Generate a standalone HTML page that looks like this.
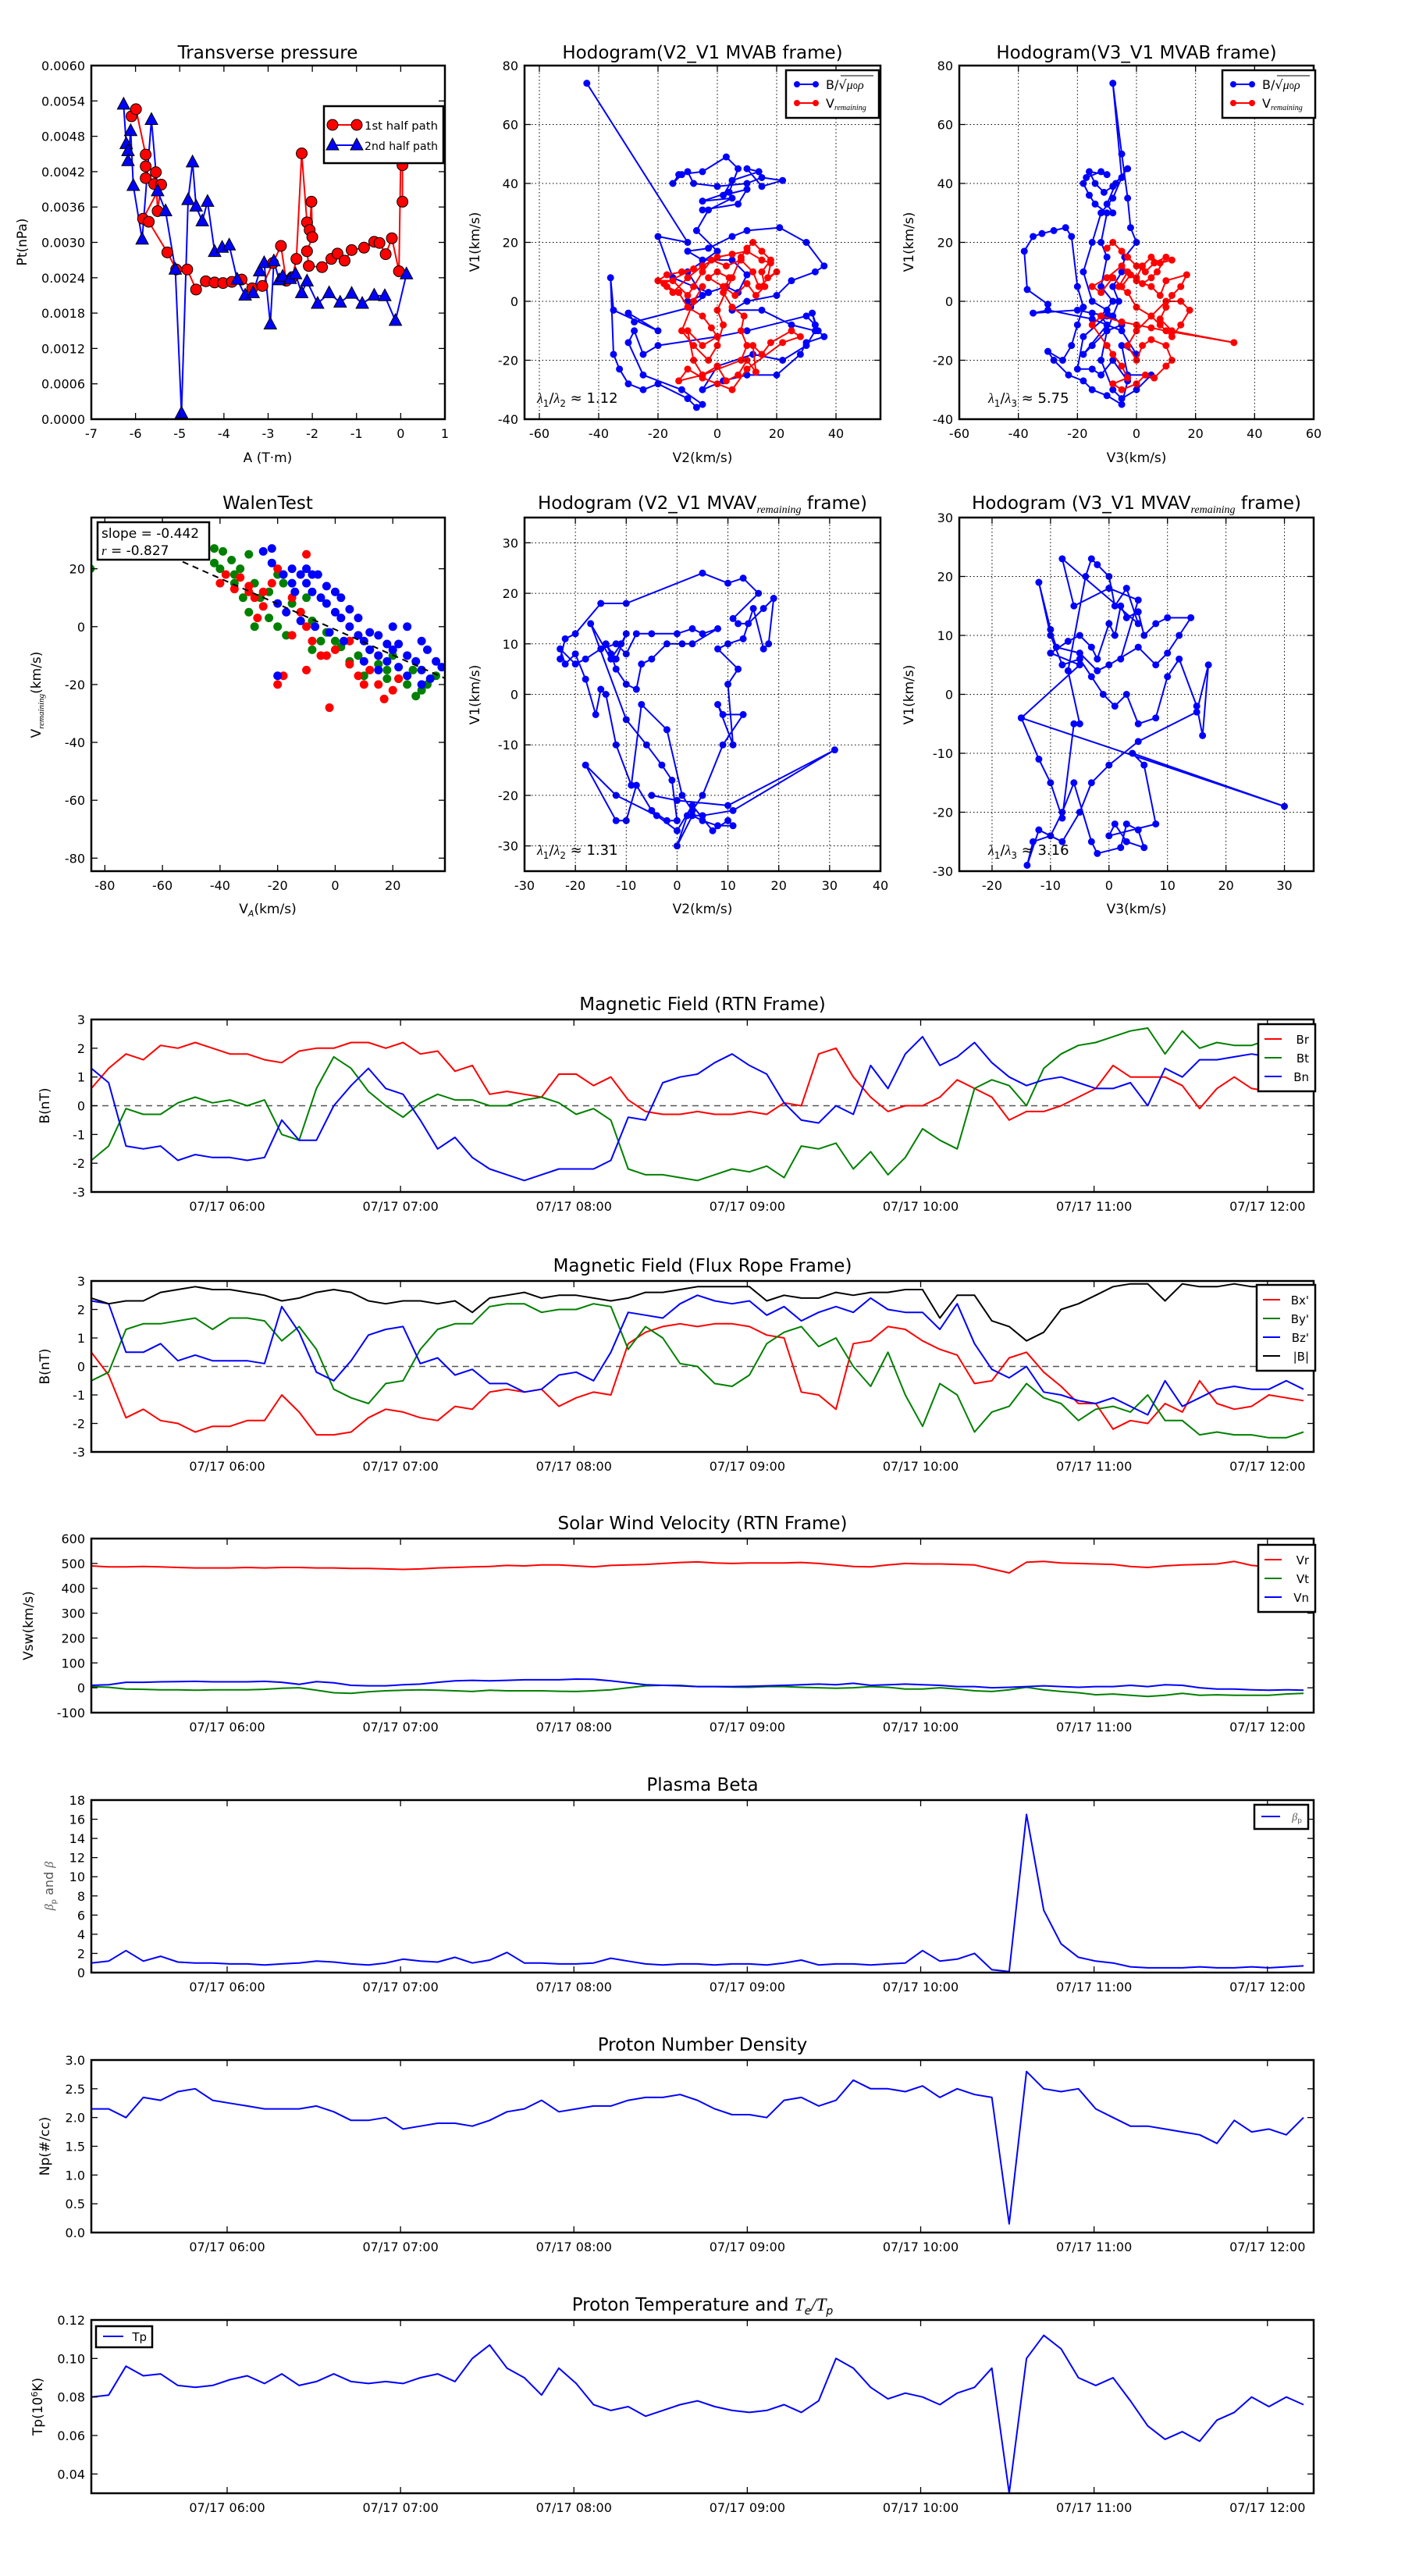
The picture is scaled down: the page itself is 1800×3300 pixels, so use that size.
<!DOCTYPE html>
<html><head><meta charset="utf-8"><title>Flux rope analysis</title>
<style>
html,body{margin:0;padding:0;background:#fff;}
svg{display:block;font-family:"DejaVu Sans","Liberation Sans",sans-serif;}
</style></head>
<body>
<svg id="chart" width="1800" height="3300" viewBox="0 0 1800 3300" xmlns="http://www.w3.org/2000/svg"></svg>
<script>
// ---------- DATA ----------
// Transverse pressure: [A (T·m), Pt (nPa)]
const tpFirstA = [-6.09,-5.99,-5.77,-5.77,-5.77,-5.58,-5.54,-5.5,-5.42,-5.83,-5.7,-5.28,-5.08,-4.83,-4.63,-4.41,-4.21,-4.02,-3.82,-3.6,-3.36,-3.13,-2.89,-2.71,-2.59,-2.45,-2.36,-2.24,-2.12,-2.06,-2.02,-2.0,-2.12,-2.08,-1.78,-1.57,-1.43,-1.27,-1.11,-0.83,-0.6,-0.48,-0.34,-0.2,-0.04,0.0,0.04,0.04];
const tpFirstP = [.00514,.00526,.00449,.00429,.00409,.00399,.00419,.00353,.00398,.0034,.00335,.00283,.00254,.00254,.0022,.00234,.00232,.00231,.00233,.00237,.00222,.00226,.00265,.00294,.00235,.00241,.00272,.00451,.00334,.00321,.00369,.00309,.00285,.0026,.00258,.00272,.00281,.00269,.00287,.00291,.00301,.00299,.0028,.00307,.00251,.00441,.00431,.00369];
const tpSecondA = [-6.27,-6.21,-6.17,-6.17,-6.11,-6.05,-5.85,-5.64,-5.5,-5.32,-5.1,-4.96,-4.81,-4.71,-4.63,-4.49,-4.37,-4.21,-4.04,-3.88,-3.7,-3.52,-3.34,-3.19,-3.09,-2.95,-2.87,-2.75,-2.67,-2.5,-2.38,-2.24,-2.12,-1.88,-1.62,-1.37,-1.11,-0.87,-0.6,-0.36,-0.12,0.13];
const tpSecondP = [.00534,.00467,.00455,.00438,.00489,.00396,.00305,.00508,.00387,.00353,.00254,.0001,.00372,.00436,.00361,.00336,.00369,.00284,.00291,.00295,.00237,.0021,.00214,.00251,.00265,.00161,.00268,.00236,.00242,.00238,.00246,.00214,.00234,.00196,.00214,.00198,.00213,.00196,.0021,.00209,.00167,.00246];

// Hodogram V2-V1 MVAB
const h1BlueV2 = [-44,-10,-20,-15,-3,-9,-28,-30,-20,-35,-36,-35,-33,-30,-25,-20,-10,-7,-5,-12,-25,-30,-28,-25,-20,0,10,30,33,32,34,36,30,28,20,10,2,-5,0,12,22,30,33,25,15,5,10,20,25,33,36,30,21,10,5,-3,-10,-5,5,10,7,3,-3,-10,-5,-10,0,-7,-3,5,-5,4,7,3,-5,-13,-15,-12,-10,-8,0,10,15,22,15,10,14,5,2,10,7,-5];
const h1BlueV1 = [74,20,22,8,3,-2,-7,-4,-10,-3,8,-18,-23,-28,-30,-28,-33,-36,-35,-30,-25,-14,-10,-18,-15,-12,-10,-5,-8,-4,-10,-12,-14,-18,-25,-25,-27,-30,-22,-18,-20,-15,-10,-8,-3,-3,0,2,7,10,12,20,25,24,22,18,17,14,14,9,3,5,3,0,2,10,17,24,31,35,34,37,45,49,44,43,40,43,44,40,39,40,42,41,39,45,44,41,36,38,33,31];
const h1RedV2 = [-20,-17,-12,-8,-18,-15,-10,-5,0,5,10,15,18,17,20,14,12,8,3,-2,-5,-8,-10,-15,-20,-17,-13,-10,-5,-2,0,-5,-10,-8,-5,0,3,7,10,13,12,15,18,25,28,22,10,5,0,-5,-10,-13,-5,8,10,8,9,5,2,4,0,-3,2,6,10,13,16,15,18,15,12,10,8,5,0,2,0,-3,-8,-12,-8,-5];
const h1RedV1 = [7,9,10,11,6,3,8,12,15,16,17,14,13,8,10,5,10,14,12,14,10,5,2,7,7,5,3,-2,-5,-9,-12,-15,-10,-20,-25,-22,-27,-25,-20,-24,-15,-18,-14,-10,-12,-14,-23,-30,-28,-26,-23,-27,-25,-20,-15,-10,-5,-2,3,8,10,8,5,2,6,2,5,10,14,17,20,18,15,8,-3,-8,-15,-20,-15,-10,0,5];

// Hodogram V3-V1 MVAB
const h2BlueV3 = [-30,-37,-38,-35,-32,-28,-24,-22,-20,-18,-20,-22,-25,-30,-28,-23,-18,-15,-10,-5,-3,-8,-12,-15,-20,-18,-10,-15,-20,-35,-30,-15,-5,0,-5,-3,5,0,-5,-8,-12,-10,-5,-10,-15,-18,-15,-12,-8,-5,-8,-5,-3,-2,0,-4,-5,-8,-6,-8,-10,-15,-18,-10,-12,-8,-12,-10,-12,-10,-14,-16,-18,-17,-12,-10,-16,-14,-11,-8,-3,-7,-10,-8];
const h2BlueV1 = [-1,4,17,22,23,24,25,22,5,-2,-8,-15,-20,-17,-20,-25,-27,-30,-32,-35,-27,-20,-25,-23,-23,-12,-5,-4,-3,-4,-3,-6,-10,-18,-15,-25,-25,-30,-33,-30,-20,-10,-8,-3,0,10,20,30,35,42,74,50,35,25,20,15,10,5,0,-5,-10,-15,-18,-8,-5,0,5,15,20,30,33,36,40,42,44,43,44,40,37,39,45,40,33,30];
const h2RedV3 = [-10,-8,-5,-3,0,3,6,10,7,5,2,-2,-5,-8,-12,-15,-10,-5,0,5,8,10,17,15,12,10,8,12,33,10,5,0,-5,-12,-15,-10,-8,-5,-3,-8,-5,0,3,6,10,12,10,5,2,0,-3,0,5,10,15,18,15,12,8,5,0,-3,-6,-3,0,2,5,8,12];
const h2RedV1 = [18,20,17,15,12,10,13,15,10,8,6,9,5,8,3,5,8,12,7,5,2,7,9,5,2,-2,-6,-10,-14,-10,-9,-8,-7,-5,-8,-15,-18,-22,-26,-28,-30,-28,-25,-26,-22,-20,-15,-13,-15,-20,-15,-10,-5,0,0,-3,-8,-12,-8,-5,-2,3,5,10,8,12,15,13,14];

// Walen test: [V_A, V_remaining]
const walenGreenVA = [-85,-42,-39,-42,-40,-36,-35,-33,-30,-28,-32,-30,-26,-28,-23,-23,-20,-18,-15,-17,-12,-10,-8,-5,-3,0,2,5,8,10,15,18,20,22,25,27,30,32,35,28,18,12,-35,-20,-8];
const walenGreenVR = [20,27,26,22,20,23,18,20,25,15,10,5,10,0,3,12,18,15,8,-3,5,10,2,-5,-2,-5,-7,-12,-10,-17,-13,-15,-10,-18,-20,-15,-22,-20,-17,-24,-18,-8,15,0,-8];
const walenRedVA = [-38,-40,-35,-33,-30,-28,-25,-27,-30,-20,-15,-12,-10,-8,-15,-10,-18,-20,-10,-5,0,-2,5,8,10,12,15,17,20,22,15,5,-22,-25,-3];
const walenRedVR = [18,15,13,17,14,10,7,3,12,20,10,5,0,-5,-3,25,-17,-20,-15,-10,-8,-28,-13,-17,-20,-15,-20,-25,-22,-18,-10,-5,15,12,-10];
const walenBlueVA = [-25,-22,-22,-18,-15,-12,-10,-8,-5,-3,0,2,5,8,10,12,15,18,20,22,25,28,30,32,35,37,33,30,25,22,18,15,12,8,5,2,0,-3,-6,-10,-14,-17,-20,-20,-12,-7,-2,3,10,20,30,25,15,-15,-8];
const walenBlueVR = [26,27,22,18,15,18,15,12,10,8,5,3,0,-3,-5,-8,-10,-12,-8,-6,-10,-12,-15,-8,-12,-14,-18,-20,-17,-14,-6,-3,-2,3,6,10,12,14,18,20,12,5,8,-17,2,0,-2,-5,-12,0,-5,0,-15,20,18];
const walenSlope = -0.442;
const walenIntercept = -1;

// Hodogram V2-V1 MVAV_remaining
const h3V2 = [-23,-22,-20,-15,-10,5,10,13,16,11,12,14,17,19,18,17,15,13,10,8,12,10,11,8,9,13,9,5,3,1,-2,-7,-9,-12,-14,-15,-16,-18,-20,-22,-23,-20,-18,-15,-12,-10,-8,-5,0,3,5,8,3,1,-2,-5,-7,-8,-10,-12,-13,-14,-12,-10,-11,-13,-17,-10,-6,-3,-1,0,-2,-5,-8,-10,-12,-18,-12,-4,0,3,7,10,11,8,5,3,0,2,5,11,31,10,0,-5];
const h3V1 = [7,11,12,18,18,24,22,23,20,15,14,14,17,19,10,9,17,11,10,9,5,2,-10,-2,-4,-4,-10,-20,-23,-20,-7,-2,-18,-10,0,1,-4,3,8,6,9,6,7,9,10,8,12,12,12,13,12,13,10,10,10,7,6,1,2,5,8,10,7,12,10,7,14,-5,-10,-14,-17,-25,-25,-23,-18,-25,-25,-14,-20,-24,-27,-22,-27,-25,-26,-26,-25,-24,-30,-24,-24,-23,-11,-22,-21,-20];

// Hodogram V3-V1 MVAV_remaining
const h4V3 = [-15,-5,-10,-7,-5,-3,-2,0,1,2,3,5,6,8,10,14,12,10,8,5,0,-2,-5,-9,-10,-12,-10,-8,-5,-3,-1,1,3,5,8,10,12,15,16,17,15,5,0,-3,-5,-8,-12,-14,-13,-10,-8,-6,-3,-2,2,3,5,6,3,1,0,8,6,4,30,-15,-12,-10,-8,-6,-5,-7,-4,-3,-2,0,1,3,5,-8,-6,0,5,2];
const h4V1 = [-4,5,7,9,10,8,6,12,10,15,13,14,10,12,13,13,10,7,5,8,5,4,7,8,11,19,10,5,6,3,0,-2,0,-5,-4,3,6,-2,-7,5,-3,-8,-12,-15,-20,-25,-23,-29,-25,-24,-20,-15,-25,-27,-26,-22,-23,-26,-25,-22,-24,-22,-12,-10,-19,-4,-11,-15,-21,-5,-5,4,20,23,22,20,15,18,12,23,15,18,16,6];

// Time series (uniform cadence across 05:13 – 12:13)
const timeTickLabels = ["07/17 06:00","07/17 07:00","07/17 08:00","07/17 09:00","07/17 10:00","07/17 11:00","07/17 12:00"];
const timeTickMinutes = [47,107,167,227,287,347,407];
const seriesSpanMinutes = 419.5;
const brVals = [0.6,1.3,1.8,1.6,2.1,2.0,2.2,2.0,1.8,1.8,1.6,1.5,1.9,2.0,2.0,2.2,2.2,2.0,2.2,1.8,1.9,1.2,1.4,0.4,0.5,0.4,0.3,1.1,1.1,0.7,1.0,0.2,-0.2,-0.3,-0.3,-0.2,-0.3,-0.3,-0.2,-0.3,0.1,0.0,1.8,2.0,1.0,0.3,-0.2,0.0,0.0,0.3,0.9,0.6,0.3,-0.5,-0.2,-0.2,0.0,0.3,0.6,1.4,1.0,1.0,1.0,0.7,-0.1,0.6,1.0,0.6,0.5,0.7,0.8];
const btVals = [-1.9,-1.4,-0.1,-0.3,-0.3,0.1,0.3,0.1,0.2,0.0,0.2,-1.0,-1.2,0.6,1.7,1.3,0.5,0.0,-0.4,0.1,0.4,0.2,0.2,0.0,0.0,0.2,0.3,0.1,-0.3,-0.1,-0.5,-2.2,-2.4,-2.4,-2.5,-2.6,-2.4,-2.2,-2.3,-2.1,-2.5,-1.4,-1.5,-1.3,-2.2,-1.6,-2.4,-1.8,-0.8,-1.2,-1.5,0.6,0.9,0.7,0.0,1.3,1.8,2.1,2.2,2.4,2.6,2.7,1.8,2.6,2.0,2.2,2.1,2.1,2.3,2.2,2.0];
const bnVals = [1.3,0.8,-1.4,-1.5,-1.4,-1.9,-1.7,-1.8,-1.8,-1.9,-1.8,-0.5,-1.2,-1.2,0.0,0.7,1.3,0.6,0.4,-0.5,-1.5,-1.1,-1.8,-2.2,-2.4,-2.6,-2.4,-2.2,-2.2,-2.2,-1.9,-0.4,-0.5,0.8,1.0,1.1,1.5,1.8,1.4,1.1,0.1,-0.5,-0.6,0.0,-0.3,1.4,0.6,1.8,2.4,1.4,1.7,2.2,1.5,1.0,0.7,0.9,1.0,0.8,0.6,0.6,0.8,0.0,1.3,1.0,1.6,1.6,1.7,1.8,1.7,1.7,1.5];
const bxVals = [0.5,-0.3,-1.8,-1.5,-1.9,-2.0,-2.3,-2.1,-2.1,-1.9,-1.9,-1.0,-1.6,-2.4,-2.4,-2.3,-1.8,-1.5,-1.6,-1.8,-1.9,-1.4,-1.5,-0.9,-0.8,-0.9,-0.8,-1.4,-1.1,-0.9,-1.0,0.8,1.2,1.4,1.5,1.4,1.5,1.5,1.4,1.1,1.0,-0.9,-1.0,-1.5,0.8,0.9,1.4,1.3,0.9,0.6,0.4,-0.6,-0.5,0.3,0.5,-0.2,-0.7,-1.3,-1.3,-2.2,-1.9,-2.0,-1.3,-1.6,-0.5,-1.3,-1.5,-1.4,-1.0,-1.1,-1.2];
const byVals = [-0.5,-0.2,1.3,1.5,1.5,1.6,1.7,1.3,1.7,1.7,1.6,0.9,1.4,0.6,-0.8,-1.1,-1.3,-0.6,-0.5,0.6,1.3,1.5,1.5,2.1,2.2,2.2,1.9,2.0,2.0,2.2,2.1,0.6,1.4,1.0,0.1,0.0,-0.6,-0.7,-0.3,0.8,1.2,1.4,0.7,1.0,0.0,-0.7,0.5,-1.0,-2.1,-0.6,-1.0,-2.3,-1.6,-1.4,-0.6,-1.1,-1.3,-1.9,-1.5,-1.4,-1.6,-1.0,-1.9,-1.9,-2.4,-2.3,-2.4,-2.4,-2.5,-2.5,-2.3];
const bzVals = [2.3,2.2,0.5,0.5,0.8,0.2,0.4,0.2,0.2,0.2,0.1,2.1,1.2,-0.2,-0.5,0.2,1.1,1.3,1.4,0.1,0.3,-0.3,-0.1,-0.6,-0.6,-0.9,-0.8,-0.3,-0.2,-0.5,0.5,1.9,1.8,1.7,2.2,2.5,2.3,2.2,2.3,1.8,2.1,1.6,1.9,2.1,1.9,2.4,2.0,1.9,1.9,1.3,2.2,0.8,-0.1,-0.4,0.0,-0.9,-1.0,-1.2,-1.3,-1.1,-1.4,-1.7,-0.5,-1.4,-1.1,-0.8,-0.7,-0.8,-0.8,-0.5,-0.8];
const bmagVals = [2.4,2.2,2.3,2.3,2.6,2.7,2.8,2.7,2.7,2.6,2.5,2.3,2.4,2.6,2.7,2.6,2.3,2.2,2.3,2.3,2.2,2.3,1.9,2.4,2.5,2.6,2.4,2.5,2.5,2.4,2.3,2.4,2.6,2.6,2.7,2.8,2.8,2.8,2.8,2.3,2.5,2.4,2.4,2.6,2.5,2.6,2.6,2.7,2.7,1.7,2.5,2.5,1.6,1.4,0.9,1.2,2.0,2.2,2.5,2.8,2.9,2.9,2.3,2.9,2.8,2.8,2.9,2.8,2.8,2.8,2.7];
const vrVals = [490,486,486,488,486,484,482,482,482,484,482,484,484,482,482,480,480,478,476,478,482,484,486,488,492,490,494,494,490,486,492,494,496,500,504,506,502,500,502,502,502,504,500,494,488,486,494,500,498,498,496,494,478,462,505,508,502,500,498,496,488,484,490,494,496,498,508,492,486,486,486];
const vtVals = [5,2,-5,-6,-8,-8,-10,-8,-8,-8,-6,-2,0,-10,-20,-22,-16,-12,-10,-8,-10,-12,-15,-10,-12,-12,-12,-14,-15,-12,-8,0,8,10,10,5,5,3,2,5,5,2,0,-2,0,5,2,-5,-5,0,-5,-12,-15,-8,2,-8,-15,-20,-28,-25,-30,-35,-30,-22,-30,-28,-30,-30,-30,-25,-22];
const vnVals = [10,12,22,22,24,25,26,24,24,24,26,22,14,25,20,10,8,8,12,15,22,28,30,28,30,32,32,32,35,34,28,20,12,10,8,5,5,5,6,8,10,12,15,12,18,10,12,15,12,10,5,5,0,2,5,8,5,2,5,5,10,5,12,10,0,-5,-5,-8,-10,-8,-10];
const betaVals = [1.0,1.2,2.3,1.2,1.7,1.1,1.0,1.0,0.9,0.9,0.8,0.9,1.0,1.2,1.1,0.9,0.8,1.0,1.4,1.2,1.1,1.6,1.0,1.3,2.1,1.0,1.0,0.9,0.9,1.0,1.5,1.2,0.9,0.8,0.9,0.9,0.8,0.9,0.9,0.8,1.0,1.3,0.8,0.9,0.9,0.8,0.9,1.0,2.3,1.2,1.4,2.0,0.3,0.1,16.5,6.5,3.0,1.6,1.2,1.0,0.6,0.5,0.5,0.5,0.6,0.5,0.5,0.6,0.5,0.6,0.7];
const npVals = [2.15,2.15,2.0,2.35,2.3,2.45,2.5,2.3,2.25,2.2,2.15,2.15,2.15,2.2,2.1,1.95,1.95,2.0,1.8,1.85,1.9,1.9,1.85,1.95,2.1,2.15,2.3,2.1,2.15,2.2,2.2,2.3,2.35,2.35,2.4,2.3,2.15,2.05,2.05,2.0,2.3,2.35,2.2,2.3,2.65,2.5,2.5,2.45,2.55,2.35,2.5,2.4,2.35,0.15,2.8,2.5,2.45,2.5,2.15,2.0,1.85,1.85,1.8,1.75,1.7,1.55,1.95,1.75,1.8,1.7,2.0];
const tpVals = [0.08,0.081,0.096,0.091,0.092,0.086,0.085,0.086,0.089,0.091,0.087,0.092,0.086,0.088,0.092,0.088,0.087,0.088,0.087,0.09,0.092,0.088,0.1,0.107,0.095,0.09,0.081,0.095,0.087,0.076,0.073,0.075,0.07,0.073,0.076,0.078,0.075,0.073,0.072,0.073,0.076,0.072,0.078,0.1,0.095,0.085,0.079,0.082,0.08,0.076,0.082,0.085,0.095,0.03,0.1,0.112,0.105,0.09,0.086,0.09,0.078,0.065,0.058,0.062,0.057,0.068,0.072,0.08,0.075,0.08,0.076];

// ---------- DRAWING ----------
const NS = "http://www.w3.org/2000/svg";
const svg = document.getElementById('chart');
function mk(tag, attrs, parent){
  const e = document.createElementNS(NS, tag);
  for (const k in attrs) e.setAttribute(k, attrs[k]);
  (parent || svg).appendChild(e);
  return e;
}
function txt(s, x, y, size, anchor, parent, extra){
  const t = mk('text', Object.assign({x:x, y:y, 'font-size':size, 'text-anchor':anchor||'middle', fill:'#000'}, extra||{}), parent);
  t.textContent = s;
  return t;
}
let clipId = 0;
function axes(name, x0, y0, x1, y1, xlim, ylim){
  const g = mk('g', {});
  
  
  const sx = v => x0 + (v - xlim[0]) / (xlim[1] - xlim[0]) * (x1 - x0);
  const sy = v => y1 - (v - ylim[0]) / (ylim[1] - ylim[0]) * (y1 - y0);
  const id = 'clip' + (clipId++);
  const cp = mk('clipPath', {id:id}, g);
  mk('rect', {x:x0, y:y0, width:x1-x0, height:y1-y0}, cp);
  const data = mk('g', {'clip-path':'url(#'+id+')'}, g);
  return {g, data, sx, sy, x0, y0, x1, y1};
}
function frame(ax){
  const r = mk('rect', {x:ax.x0, y:ax.y0, width:ax.x1-ax.x0, height:ax.y1-ax.y0, fill:'none', stroke:'#000', 'stroke-width':2.5}, ax.g);
  
  
}
function xticks(ax, vals, labels, grid){
  vals.forEach((v, i) => {
    const x = ax.sx(v);
    if (grid) mk('line', {x1:x, x2:x, y1:ax.y0, y2:ax.y1, stroke:'#000', 'stroke-width':1, 'stroke-dasharray':'1.5,3'}, ax.g);
    mk('line', {x1:x, x2:x, y1:ax.y1, y2:ax.y1-8, stroke:'#000', 'stroke-width':1.3}, ax.g);
    mk('line', {x1:x, x2:x, y1:ax.y0, y2:ax.y0+8, stroke:'#000', 'stroke-width':1.3}, ax.g);
    const t = txt(labels[i], x, ax.y1 + 24, 16, 'middle', ax.g);
    
    
  });
}
function yticks(ax, vals, labels, grid){
  vals.forEach((v, i) => {
    const y = ax.sy(v);
    if (grid) mk('line', {x1:ax.x0, x2:ax.x1, y1:y, y2:y, stroke:'#000', 'stroke-width':1, 'stroke-dasharray':'1.5,3'}, ax.g);
    mk('line', {x1:ax.x0, x2:ax.x0+8, y1:y, y2:y, stroke:'#000', 'stroke-width':1.3}, ax.g);
    mk('line', {x1:ax.x1, x2:ax.x1-8, y1:y, y2:y, stroke:'#000', 'stroke-width':1.3}, ax.g);
    const t = txt(labels[i], ax.x0 - 8, y + 6, 16, 'end', ax.g);
    
    
  });
}
function range(a, b, s){ const r = []; for (let v = a; v <= b + 1e-9; v += s) r.push(+v.toFixed(6)); return r; }
function poly(ax, xs, ys, color, w, name){
  const pts = xs.map((x, i) => ax.sx(x).toFixed(1) + ',' + ax.sy(ys[i]).toFixed(1)).join(' ');
  const p = mk('polyline', {points:pts, fill:'none', stroke:color, 'stroke-width':w||2, 'stroke-linejoin':'round'}, ax.data);
  
  
  return p;
}
function dots(ax, xs, ys, color, r, name, edge){
  const g = mk('g', {}, ax.data);
  
  
  xs.forEach((x, i) => mk('circle', {cx:ax.sx(x), cy:ax.sy(ys[i]), r:r, fill:color, stroke:edge||color, 'stroke-width':1}, g));
  return g;
}
function tris(ax, xs, ys, color, name){
  const g = mk('g', {}, ax.data);
  
  
  xs.forEach((x, i) => {
    const cx = ax.sx(x), cy = ax.sy(ys[i]);
    mk('polygon', {points:(cx)+','+(cy-9)+' '+(cx-8)+','+(cy+6)+' '+(cx+8)+','+(cy+6), fill:color, stroke:'#000', 'stroke-width':1}, g);
  });
}
function title(s, x, y){
  const t = txt(s, x, y, 23, 'middle');
  
  
  return t;
}
function ylabel(s, x, y, size){
  const t = txt(s, x, y, size||17, 'middle', svg, {transform:'rotate(-90 '+x+' '+y+')'});
  
  
  return t;
}
function xlabel(s, x, y){
  const t = txt(s, x, y, 17, 'middle');
  
  
  return t;
}
function legendBox(x, y, w, h, name){
  const g = mk('g', {});
  
  
  mk('rect', {x:x, y:y, width:w, height:h, fill:'#fff', stroke:'#000', 'stroke-width':2.5}, g);
  return g;
}
function lambdaLabel(x, y, sub, val){
  const t = mk('text', {x:x, y:y, 'font-size':18, fill:'#000'});
  
  
  t.innerHTML = '<tspan font-style="italic" font-family="Liberation Serif">λ</tspan><tspan font-size="12" dy="5">1</tspan><tspan dy="-5">/</tspan><tspan font-style="italic" font-family="Liberation Serif">λ</tspan><tspan font-size="12" dy="5">'+sub+'</tspan><tspan dy="-5"> ≈ '+val+'</tspan>';
}
function hodoLegend(x, y){
  const g = legendBox(x, y, 119, 61, 'legend');
  mk('line', {x1:x+12, x2:x+40, y1:y+18, y2:y+18, stroke:'#0000ff', 'stroke-width':2}, g);
  mk('circle', {cx:x+14, cy:y+18, r:4, fill:'#0000ff'}, g); mk('circle', {cx:x+38, cy:y+18, r:4, fill:'#0000ff'}, g);
  mk('line', {x1:x+12, x2:x+40, y1:y+42, y2:y+42, stroke:'#ff0000', 'stroke-width':2}, g);
  mk('circle', {cx:x+14, cy:y+42, r:4, fill:'#ff0000'}, g); mk('circle', {cx:x+38, cy:y+42, r:4, fill:'#ff0000'}, g);
  const t1 = mk('text', {x:x+51, y:y+24, 'font-size':16}, g);
  t1.innerHTML = 'B/√<tspan font-style="italic" font-family="Liberation Serif">μ</tspan><tspan font-size="10">0</tspan><tspan font-style="italic" font-family="Liberation Serif">ρ</tspan>';
  
  
  mk('line', {x1:x+70, x2:x+112, y1:y+7, y2:y+7, stroke:'#000', 'stroke-width':1}, g);
  const t2 = mk('text', {x:x+51, y:y+48, 'font-size':16}, g);
  t2.innerHTML = 'V<tspan font-size="10" font-style="italic" font-family="Liberation Serif" dy="3">remaining</tspan>';
  
  
}

// ---- Row 1 ----
{
  const ax = axes('transverse-pressure-panel', 117, 84, 570, 537, [-7, 1], [0, 0.006]);
  poly(ax, tpFirstA, tpFirstP, '#ff0000', 2, 'first-half-line');
  poly(ax, tpSecondA, tpSecondP, '#0000ff', 2, 'second-half-line');
  dots(ax, tpFirstA, tpFirstP, '#ff0000', 7, 'first-half-markers', '#000');
  tris(ax, tpSecondA, tpSecondP, '#0000ff', 'second-half-markers');
  xticks(ax, range(-7, 1, 1), range(-7, 1, 1).map(String), false);
  const yv = range(0, 0.006, 0.0006);
  yticks(ax, yv, yv.map(v => v.toFixed(4)), false);
  frame(ax);
  title('Transverse pressure', 343, 75);
  xlabel('A (T·m)', 343, 592);
  ylabel('Pt(nPa)', 34, 310);
  const lg = legendBox(415, 136, 153, 73, 'legend');
  [[160,'#ff0000','1st half path'],[186,'#0000ff','2nd half path']].forEach((e, i) => {
    mk('line', {x1:425, x2:458, y1:e[0], y2:e[0], stroke:e[1], 'stroke-width':2}, lg);
    if (i === 0) { mk('circle', {cx:426, cy:e[0], r:7, fill:e[1], stroke:'#000'}, lg); mk('circle', {cx:457, cy:e[0], r:7, fill:e[1], stroke:'#000'}, lg); }
    else { [426,457].forEach(cx => mk('polygon', {points:cx+','+(e[0]-9)+' '+(cx-8)+','+(e[0]+6)+' '+(cx+8)+','+(e[0]+6), fill:e[1], stroke:'#000'}, lg)); }
    const t = txt(e[2], 467, e[0]+6, 14, 'start', lg, {textLength:94, lengthAdjust:'spacingAndGlyphs'});
    
    
  });
}
{
  const ax = axes('hodogram-v2-v1-mvab-panel', 672, 84, 1128, 537, [-65, 55], [-40, 80]);
  xticks(ax, range(-60, 40, 20), range(-60, 40, 20).map(String), true);
  yticks(ax, range(-40, 80, 20), range(-40, 80, 20).map(String), true);
  poly(ax, h1BlueV2, h1BlueV1, '#0000ff', 2, 'b-hodogram-line');
  dots(ax, h1BlueV2, h1BlueV1, '#0000ff', 4, 'b-hodogram-points');
  poly(ax, h1RedV2, h1RedV1, '#ff0000', 2, 'v-hodogram-line');
  dots(ax, h1RedV2, h1RedV1, '#ff0000', 4, 'v-hodogram-points');
  frame(ax);
  title('Hodogram(V2_V1 MVAB frame)', 900, 75);
  xlabel('V2(km/s)', 900, 592);
  ylabel('V1(km/s)', 614, 310);
  hodoLegend(1007, 90);
  lambdaLabel(688, 516, '2', '1.12');
}
{
  const ax = axes('hodogram-v3-v1-mvab-panel', 1229, 84, 1683, 537, [-60, 60], [-40, 80]);
  xticks(ax, range(-60, 60, 20), range(-60, 60, 20).map(String), true);
  yticks(ax, range(-40, 80, 20), range(-40, 80, 20).map(String), true);
  poly(ax, h2BlueV3, h2BlueV1, '#0000ff', 2, 'b-hodogram-line');
  dots(ax, h2BlueV3, h2BlueV1, '#0000ff', 4, 'b-hodogram-points');
  poly(ax, h2RedV3, h2RedV1, '#ff0000', 2, 'v-hodogram-line');
  dots(ax, h2RedV3, h2RedV1, '#ff0000', 4, 'v-hodogram-points');
  frame(ax);
  title('Hodogram(V3_V1 MVAB frame)', 1456, 75);
  xlabel('V3(km/s)', 1456, 592);
  ylabel('V1(km/s)', 1170, 310);
  hodoLegend(1566, 90);
  lambdaLabel(1266, 516, '3', '5.75');
}
// ---- Row 2 ----
{
  const ax = axes('walen-test-panel', 117, 663, 570, 1116, [-84.7, 38.1], [-84.5, 37.7]);
  xticks(ax, range(-80, 20, 20), range(-80, 20, 20).map(String), false);
  yticks(ax, range(-80, 20, 20), range(-80, 20, 20).map(String), false);
  dots(ax, walenGreenVA, walenGreenVR, '#008000', 5, 'walen-green-points');
  dots(ax, walenRedVA, walenRedVR, '#ff0000', 5, 'walen-red-points');
  dots(ax, walenBlueVA, walenBlueVR, '#0000ff', 5, 'walen-blue-points');
  const fitX = [-53, 38];
  const fl = mk('line', {x1:ax.sx(fitX[0]), y1:ax.sy(walenSlope*fitX[0]+walenIntercept), x2:ax.sx(fitX[1]), y2:ax.sy(walenSlope*fitX[1]+walenIntercept), stroke:'#000', 'stroke-width':2, 'stroke-dasharray':'8,6'}, ax.data);
  
  
  frame(ax);
  const box = legendBox(125, 669, 143, 48, 'fit-annotation');
  const a1 = txt('slope = -0.442', 130, 689, 17, 'start', box);
  
  
  const a2 = mk('text', {x:130, y:711, 'font-size':17}, box);
  a2.innerHTML = '<tspan font-style="italic" font-family="Liberation Serif">r</tspan> = -0.827';
  
  
  title('WalenTest', 343, 652);
  const xl = mk('text', {x:343, y:1170, 'font-size':17, 'text-anchor':'middle'});
  xl.innerHTML = 'V<tspan font-size="11" font-style="italic" dy="4">A</tspan><tspan dy="-4">(km/s)</tspan>';
  
  
  const yl = mk('text', {x:0, y:0, 'font-size':17, 'text-anchor':'middle', transform:'translate(52 890) rotate(-90)'});
  yl.innerHTML = 'V<tspan font-size="11" font-style="italic" font-family="Liberation Serif" dy="4">remaining</tspan><tspan dy="-4">(km/s)</tspan>';
  
  
}
{
  const ax = axes('hodogram-v2-v1-mvav-panel', 672, 663, 1128, 1116, [-30, 40], [-35, 35]);
  xticks(ax, range(-30, 40, 10), range(-30, 40, 10).map(String), true);
  yticks(ax, range(-30, 30, 10), range(-30, 30, 10).map(String), true);
  poly(ax, h3V2, h3V1, '#0000ff', 2, 'hodogram-line');
  dots(ax, h3V2, h3V1, '#0000ff', 4, 'hodogram-points');
  frame(ax);
  const t = mk('text', {x:900, y:652, 'font-size':23, 'text-anchor':'middle'});
  t.innerHTML = 'Hodogram (V2_V1 MVAV<tspan font-size="14" font-style="italic" font-family="Liberation Serif" dy="5">remaining</tspan><tspan dy="-5"> frame)</tspan>';
  
  
  xlabel('V2(km/s)', 900, 1170);
  ylabel('V1(km/s)', 614, 890);
  lambdaLabel(688, 1095, '2', '1.31');
}
{
  const ax = axes('hodogram-v3-v1-mvav-panel', 1229, 663, 1683, 1116, [-25.6, 35], [-30, 30]);
  xticks(ax, range(-20, 30, 10), range(-20, 30, 10).map(String), true);
  yticks(ax, range(-30, 30, 10), range(-30, 30, 10).map(String), true);
  lambdaLabel(1266, 1095, '3', '3.16');
  poly(ax, h4V3, h4V1, '#0000ff', 2, 'hodogram-line');
  dots(ax, h4V3, h4V1, '#0000ff', 4, 'hodogram-points');
  frame(ax);
  const t = mk('text', {x:1456, y:652, 'font-size':23, 'text-anchor':'middle'});
  t.innerHTML = 'Hodogram (V3_V1 MVAV<tspan font-size="14" font-style="italic" font-family="Liberation Serif" dy="5">remaining</tspan><tspan dy="-5"> frame)</tspan>';
  
  
  xlabel('V3(km/s)', 1456, 1170);
  ylabel('V1(km/s)', 1170, 890);
}

// ---- Time series ----
function minutesOf(n){ const a = []; for (let i = 0; i < n; i++) a.push(i * seriesSpanMinutes / (n - 1)); return a; }
function tsPanel(name, y0, y1, ylim, ytv, ytl, ttl, ylab, ylabX){
  const ax = axes(name, 117, y0, 1683, y1, [0, 423], ylim);
  xticks(ax, timeTickMinutes, timeTickLabels, false);
  yticks(ax, ytv, ytl, false);
  title(ttl, 900, y0 - 12);
  if (ylab) ylabel(ylab, ylabX || 63, (y0 + y1) / 2);
  return ax;
}
function zeroLine(ax){
  const z = mk('line', {x1:ax.x0, x2:ax.x1, y1:ax.sy(0), y2:ax.sy(0), stroke:'#555', 'stroke-width':1.5, 'stroke-dasharray':'8,6'}, ax.data);
  
  
}
function tsLegend(x, y, w, entries, name){
  const g = legendBox(x, y, w, entries.length * 24 + 14, name);
  entries.forEach((e, i) => {
    const yy = y + 19 + i * 24;
    mk('line', {x1:x+8, x2:x+30, y1:yy, y2:yy, stroke:e[1], 'stroke-width':2}, g);
    const t = mk('text', {x:x+w-8, y:yy+6, 'font-size':15, 'text-anchor':'end'}, g);
    t.innerHTML = e[0];
    
    
  });
}
const b3 = range(-3, 3, 1);
{
  const ax = tsPanel('magnetic-field-rtn-panel', 1306, 1527, [-3, 3], b3, b3.map(String), 'Magnetic Field (RTN Frame)', 'B(nT)');
  zeroLine(ax);
  poly(ax, minutesOf(brVals.length), brVals, '#ff0000', 2, 'br-line');
  poly(ax, minutesOf(btVals.length), btVals, '#008000', 2, 'bt-line');
  poly(ax, minutesOf(bnVals.length), bnVals, '#0000ff', 2, 'bn-line');
  frame(ax);
  tsLegend(1612, 1312, 73, [['Br','#ff0000'],['Bt','#008000'],['Bn','#0000ff']], 'legend');
}
{
  const ax = tsPanel('magnetic-field-flux-rope-panel', 1641, 1860, [-3, 3], b3, b3.map(String), 'Magnetic Field (Flux Rope Frame)', 'B(nT)');
  zeroLine(ax);
  poly(ax, minutesOf(bxVals.length), bxVals, '#ff0000', 2, 'bx-line');
  poly(ax, minutesOf(byVals.length), byVals, '#008000', 2, 'by-line');
  poly(ax, minutesOf(bzVals.length), bzVals, '#0000ff', 2, 'bz-line');
  poly(ax, minutesOf(bmagVals.length), bmagVals, '#000000', 2, 'bmag-line');
  frame(ax);
  tsLegend(1610, 1646, 75, [["Bx'",'#ff0000'],["By'",'#008000'],["Bz'",'#0000ff'],['|B|','#000']], 'legend');
}
{
  const yv = range(-100, 600, 100);
  const ax = tsPanel('solar-wind-velocity-panel', 1971, 2194, [-100, 600], yv, yv.map(String), 'Solar Wind Velocity (RTN Frame)', 'Vsw(km/s)', 42);
  poly(ax, minutesOf(vrVals.length), vrVals, '#ff0000', 2, 'vr-line');
  poly(ax, minutesOf(vtVals.length), vtVals, '#008000', 2, 'vt-line');
  poly(ax, minutesOf(vnVals.length), vnVals, '#0000ff', 2, 'vn-line');
  frame(ax);
  tsLegend(1612, 1979, 73, [['Vr','#ff0000'],['Vt','#008000'],['Vn','#0000ff']], 'legend');
}
{
  const yv = range(0, 18, 2);
  const ax = tsPanel('plasma-beta-panel', 2306, 2527, [0, 18], yv, yv.map(String), 'Plasma Beta', null);
  poly(ax, minutesOf(betaVals.length), betaVals, '#0000ff', 2, 'beta-line');
  frame(ax);
  const yl = mk('text', {x:0, y:0, 'font-size':16, 'text-anchor':'middle', fill:'#555', transform:'translate(68 2416) rotate(-90)'});
  yl.innerHTML = '<tspan font-style="italic" font-family="Liberation Serif">β</tspan><tspan font-size="10" dy="4">p</tspan><tspan dy="-4"> and </tspan><tspan font-style="italic" font-family="Liberation Serif">β</tspan>';
  
  
  const lg = legendBox(1607, 2312, 69, 31, 'legend');
  mk('line', {x1:1616, x2:1640, y1:2327, y2:2327, stroke:'#0000ff', 'stroke-width':2}, lg);
  const lt = mk('text', {x:1668, y:2332, 'font-size':14, 'text-anchor':'end', fill:'#555'}, lg);
  lt.innerHTML = '<tspan font-style="italic" font-family="Liberation Serif">β</tspan><tspan font-size="9" dy="3">p</tspan>';
  
  
}
{
  const yv = range(0, 3, 0.5);
  const ax = tsPanel('proton-density-panel', 2639, 2860, [0, 3], yv, yv.map(v => v.toFixed(1)), 'Proton Number Density', 'Np(#/cc)');
  poly(ax, minutesOf(npVals.length), npVals, '#0000ff', 2, 'np-line');
  frame(ax);
}
{
  const yv = range(0.04, 0.12, 0.02);
  const ax = axes('proton-temperature-panel', 117, 2972, 1683, 3194, [0, 423], [0.03, 0.12]);
  xticks(ax, timeTickMinutes, timeTickLabels, false);
  yticks(ax, yv, yv.map(v => v.toFixed(2)), false);
  poly(ax, minutesOf(tpVals.length), tpVals, '#0000ff', 2, 'tp-line');
  frame(ax);
  const t = mk('text', {x:900, y:2960, 'font-size':23, 'text-anchor':'middle'});
  t.innerHTML = 'Proton Temperature and <tspan font-style="italic" font-family="Liberation Serif">T</tspan><tspan font-size="14" font-style="italic" dy="5">e</tspan><tspan dy="-5" font-style="italic" font-family="Liberation Serif">/T</tspan><tspan font-size="14" font-style="italic" dy="5">p</tspan>';
  
  
  const yl = mk('text', {x:0, y:0, 'font-size':17, 'text-anchor':'middle', transform:'translate(54 3083) rotate(-90)'});
  yl.innerHTML = 'Tp(10<tspan font-size="11" dy="-6">6</tspan><tspan dy="6">K)</tspan>';
  
  
  const lg = legendBox(123, 2980, 72, 27, 'legend');
  mk('line', {x1:132, x2:158, y1:2993, y2:2993, stroke:'#0000ff', 'stroke-width':2}, lg);
  const lt = txt('Tp', 188, 2999, 15, 'end', lg);
  
  
}
</script>
</body></html>
